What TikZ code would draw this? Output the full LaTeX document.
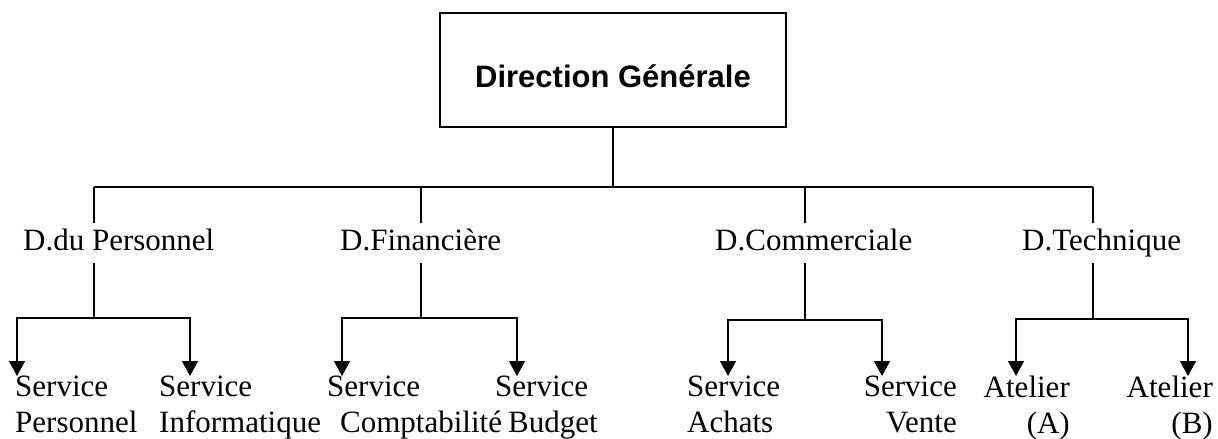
\documentclass[tikz,border=0pt]{standalone}
\usepackage{fontspec}
\setmainfont{Liberation Serif}
\newfontfamily\arialfont{Liberation Sans}
\usetikzlibrary{arrows.meta}
\tikzset{
 line/.style={line width=1.5pt, draw=black},
 arr/.style={line, -{Triangle[width=16pt,length=15pt]}},
 dgbox/.style={draw, line width=1.5pt, minimum width=346pt, minimum height=114pt, inner sep=0pt},
 dgtext/.style={font=\arialfont\bfseries\fontsize{31}{36}\selectfont, inner sep=0pt},
 dept/.style={font=\fontsize{31}{36}\selectfont, inner xsep=0pt, inner ysep=6pt, text height=21pt, text depth=7pt, anchor=base west},
 leafl/.style={font=\fontsize{31}{36}\selectfont, inner sep=0pt, align=left, anchor=north west},
 leafr/.style={font=\fontsize{31}{36}\selectfont, inner sep=0pt, align=right, anchor=north east}
}
\begin{document}
\begin{tikzpicture}[x=1pt,y=-1pt]
\useasboundingbox (0,0) rectangle (1218,439);
% top box
\node[dgbox] (dg) at (613,70) {};
\node[dgtext, anchor=base] (dgt) at (613,87) {Direction Générale};
% department labels
\node[dept] (dp) at (23,250) {D.du Personnel};
\node[dept] (df) at (340,250) {D.Financière};
\node[dept] (dc) at (715,250) {D.Commerciale};
\node[dept] (dt) at (1022,250) {D.Technique};
% leaves
\node[leafl] (l1) at (15,376) {Service\\Personnel};
\node[leafl] (l2) at (159,376) {Service\\Informatique};
\node[leafl] (l3) at (327,376) {Service\\\hspace*{13pt}Comptabilité};
\node[leafl] (l4) at (495,376) {Service\\\hspace*{13pt}Budget};
\node[leafl] (l5) at (687,376) {Service\\Achats};
\node[leafr] (l6) at (957,376) {Service\\Vente};
\node[leafr] (l7) at (1070,376) {Atelier\\(A)};
\node[leafr] (l8) at (1213,376) {Atelier\\(B)};
% coordinates
\coordinate (b1) at (94,187);
\coordinate (b2) at (421,187);
\coordinate (b3) at (805,187);
\coordinate (b4) at (1093,187);
\coordinate (j1) at (94,318);
\coordinate (j2) at (421,318);
\coordinate (j3) at (805,320);
\coordinate (j4) at (1093,319);
\coordinate (a1) at (17,318);
\coordinate (a2) at (190,318);
\coordinate (a3) at (342,318);
\coordinate (a4) at (517,318);
\coordinate (a5) at (728,320);
\coordinate (a6) at (882,320);
\coordinate (a7) at (1016,319);
\coordinate (a8) at (1188,319);
% first level
\draw[line] (dg.south) -- (dg.south |- b1);
\draw[line] (b1) -- (b4);
\draw[line] (b1) -- (b1 |- dp.north);
\draw[line] (b2) -- (b2 |- df.north);
\draw[line] (b3) -- (b3 |- dc.north);
\draw[line] (b4) -- (b4 |- dt.north);
% second level
\draw[line] (dp.south -| j1) -- (j1);
\draw[line] (df.south -| j2) -- (j2);
\draw[line] (dc.south -| j3) -- (j3);
\draw[line] (dt.south -| j4) -- (j4);
\draw[arr] (j1) -- (a1) -- (l1.north -| a1);
\draw[arr] (j1) -- (a2) -- (l2.north -| a2);
\draw[arr] (j2) -- (a3) -- (l3.north -| a3);
\draw[arr] (j2) -- (a4) -- (l4.north -| a4);
\draw[arr] (j3) -- (a5) -- (l5.north -| a5);
\draw[arr] (j3) -- (a6) -- (l6.north -| a6);
\draw[arr] (j4) -- (a7) -- (l7.north -| a7);
\draw[arr] (j4) -- (a8) -- (l8.north -| a8);
\end{tikzpicture}
\end{document}
